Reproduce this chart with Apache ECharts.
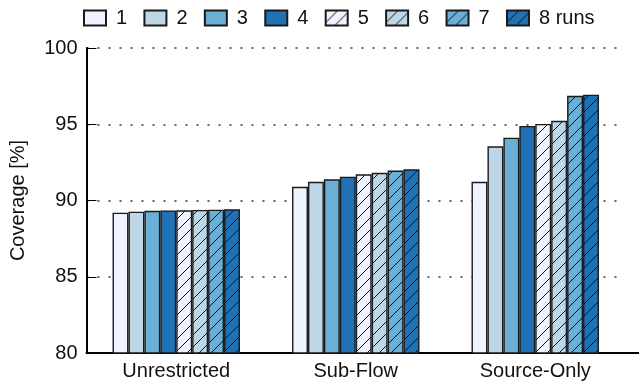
<!DOCTYPE html>
<html>
<head>
<meta charset="utf-8">
<script src="https://cdn.jsdelivr.net/npm/echarts@6/dist/echarts.min.js"></script>
<style>
  html, body { margin: 0; padding: 0; background: #fff; }
  #chart { width: 639px; height: 382px; }
</style>
</head>
<body>
<div id="chart"></div>
<script>
// Coverage per restriction mode, one array per number of runs
const categories = ['Unrestricted', 'Sub-Flow', 'Source-Only'];
const runNames = ['1', '2', '3', '4', '5', '6', '7', '8 runs'];
const runs1 = [89.20, 90.90, 91.23];
const runs2 = [89.27, 91.23, 93.55];
const runs3 = [89.32, 91.39, 94.12];
const runs4 = [89.35, 91.56, 94.89];
const runs5 = [89.36, 91.72, 95.02];
const runs6 = [89.38, 91.82, 95.23];
const runs7 = [89.40, 91.96, 96.87];
const runs8 = [89.42, 92.05, 96.94];
const yTicks = [80, 85, 90, 95, 100];

const seriesValues = [runs1, runs2, runs3, runs4, runs5, runs6, runs7, runs8];
const fills = ['#eff3ff', '#bdd7e7', '#6baed6', '#2171b5'];
const hatched = [false, false, false, false, true, true, true, true];

// Fill with diagonal "/" hatching on top of a base colour
function hatchPattern(base) {
  const s = 12;
  const c = document.createElement('canvas');
  c.width = s; c.height = s;
  const g = c.getContext('2d');
  g.fillStyle = base;
  g.fillRect(0, 0, s, s);
  g.strokeStyle = '#111';
  g.lineWidth = 1;
  g.beginPath();
  g.moveTo(-1, s + 1); g.lineTo(s + 1, -1);
  g.moveTo(-2, 2); g.lineTo(2, -2);
  g.moveTo(s - 2, s + 2); g.lineTo(s + 2, s - 2);
  g.stroke();
  return { image: c, repeat: 'repeat' };
}

const textColor = '#111';
const font = 'Liberation Sans, Arial, Helvetica, sans-serif';
const fontSize = 20;

const chart = echarts.init(document.getElementById('chart'), null, { renderer: 'canvas' });

const series = seriesValues.map((vals, i) => ({
  name: runNames[i],
  type: 'bar',
  data: vals,
  barGap: '0%',
  barCategoryGap: '29%',
  itemStyle: {
    color: hatched[i] ? hatchPattern(fills[i % 4]) : fills[i % 4],
    borderColor: '#1a1a1a',
    borderWidth: 1.4
  },
  emphasis: { disabled: true }
}));

chart.setOption({
  animation: false,
  textStyle: { fontFamily: font },
  legend: {
    top: 3,
    left: 78,
    icon: 'rect',
    itemWidth: 22,
    itemHeight: 15,
    itemGap: 16.3,
    textStyle: { fontSize: fontSize, color: textColor, fontFamily: font, padding: [0, 0, 0, 5] },
    data: runNames
  },
  grid: { left: 86.5, right: 14, top: 48, bottom: 29 },
  xAxis: {
    type: 'category',
    data: categories,
    axisLine: { lineStyle: { color: '#000', width: 2 } },
    axisTick: { show: false },
    axisLabel: { fontSize: fontSize, color: textColor, margin: 8, fontFamily: font }
  },
  yAxis: {
    type: 'value',
    min: yTicks[0],
    max: yTicks[yTicks.length - 1],
    interval: 5,
    name: 'Coverage [%]',
    nameLocation: 'middle',
    nameGap: 58,
    nameTextStyle: { fontSize: fontSize, color: textColor, fontFamily: font },
    axisLine: { show: true, lineStyle: { color: '#000', width: 2 } },
    axisTick: { show: true, inside: true, length: 10, lineStyle: { color: '#000', width: 1 } },
    axisLabel: { fontSize: fontSize, color: textColor, margin: 9, fontFamily: font },
    splitLine: { show: true, lineStyle: { color: '#333', width: 1.5, type: [2, 9] } }
  },
  series: series
});

// Extend the baseline to the right edge of the figure
const gridRect = chart.getModel().getComponent('grid').coordinateSystem.getRect();
chart.setOption({
  graphic: [{
    type: 'line',
    shape: { x1: gridRect.x + gridRect.width, y1: gridRect.y + gridRect.height, x2: 639, y2: gridRect.y + gridRect.height },
    style: { stroke: '#000', lineWidth: 2 },
    silent: true
  }]
});
</script>
</body>
</html>
